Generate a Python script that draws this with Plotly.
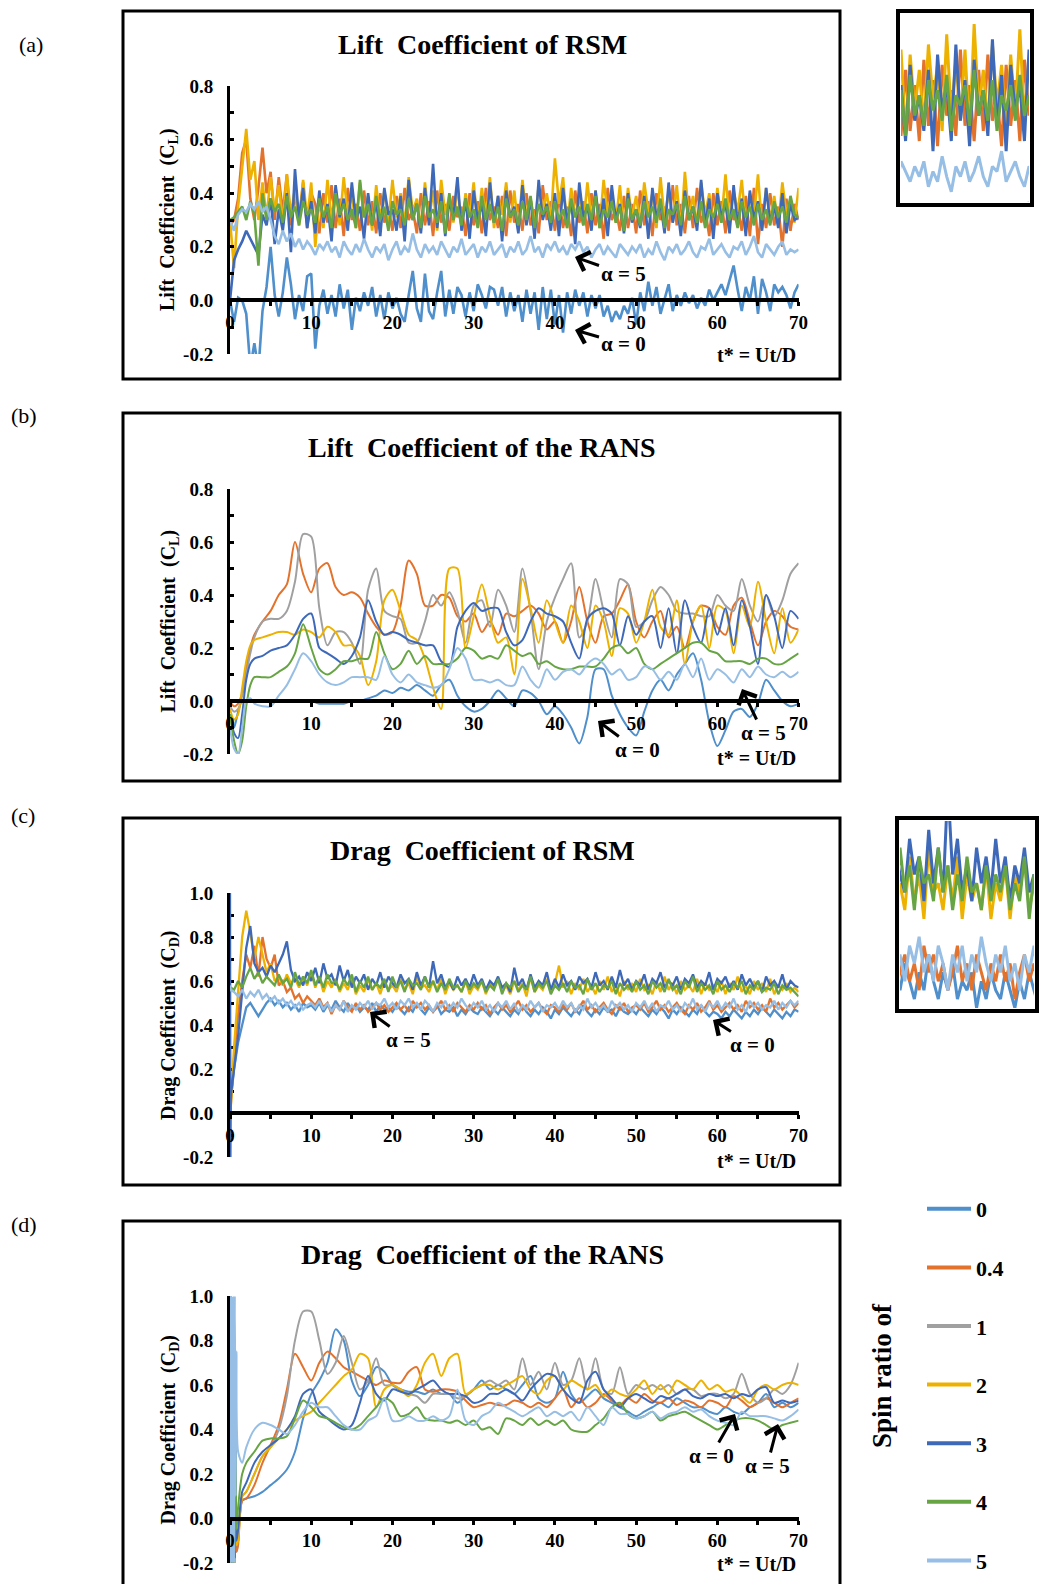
import plotly.graph_objects as go

W, H = 1041, 1584
FONT = "Liberation Serif"

SPIN_RATIOS = ["0", "0.4", "1", "2", "3", "4", "5"]
LINE_COLORS = ["#4F8FCB", "#E3722C", "#A0A0A0", "#EDB100", "#3E69B9", "#67A444", "#97BEE4"]

# ---------------- sample times (t* = Ut/D) ----------------
T_RSM_LIFT = [0.0] + [0.5 * k for k in range(1, 141)]
T_RSM_DRAG = [0.0, 0.05, 0.1] + [0.5 * k for k in range(1, 141)]
T_RANS_LIFT = [0.0, 0.5, 1.0, 1.5, 2.0, 2.5, 3.0] + list(range(4, 71))
T_RANS_DRAG = [0.0, 0.1, 0.2, 0.3, 0.4, 0.5, 0.6, 0.7, 0.8, 1.0, 1.5, 2.0, 3.0] + list(range(4, 71))

# ---------------- (a) lift coefficient, RSM ----------------
CL_RSM_0 = [0.00,
    -0.08, 0.01, 0.00, -0.05, -0.25, -0.16, -0.26, -0.04, 0.05, 0.20, 0.02, -0.06, 0.03, 0.16, 0.06, -0.07, 0.02, -0.04, 0.09, 0.10,
    -0.18, -0.02, 0.04, -0.05, 0.02, -0.06, 0.06, -0.03, 0.04, -0.11, 0.01, -0.04, 0.03, -0.02, 0.05, -0.06, 0.02, -0.07, 0.03, -0.03,
    0.01, -0.05, -0.08, 0.02, 0.11, -0.03, -0.08, 0.10, -0.04, -0.07, 0.03, 0.11, -0.06, 0.04, -0.05, 0.05, 0.02, -0.06, 0.03, -0.04,
    0.06, 0.02, -0.03, 0.05, 0.04, -0.02, 0.05, -0.06, 0.03, -0.04, 0.02, -0.08, 0.04, -0.05, 0.03, -0.11, 0.05, -0.07, 0.04, -0.09,
    0.02, -0.12, 0.03, -0.05, 0.04, -0.02, 0.03, -0.06, 0.02, -0.03, 0.02, -0.06, -0.02, -0.08, -0.04, -0.07, -0.02, -0.05, 0.01, -0.09,
    0.03, -0.04, 0.07, -0.02, 0.05, -0.05, 0.01, 0.06, -0.04, 0.02, -0.02, 0.03, -0.01, 0.02, -0.03, 0.01, -0.02, 0.04, 0.00, 0.03,
    0.06, 0.02, 0.08, 0.13, 0.04, -0.04, 0.05, 0.00, 0.09, -0.05, 0.08, 0.03, -0.04, 0.06, 0.03, 0.05, 0.02, -0.03, 0.03, 0.06]
CL_RSM_04 = [0.28,
    0.30, 0.38, 0.55, 0.60, 0.38, 0.30, 0.42, 0.57, 0.40, 0.48, 0.30, 0.46, 0.33, 0.47, 0.28, 0.40, 0.30, 0.44, 0.27, 0.40,
    0.36, 0.25, 0.40, 0.29, 0.43, 0.27, 0.38, 0.24, 0.42, 0.30, 0.36, 0.26, 0.41, 0.28, 0.37, 0.25, 0.40, 0.29, 0.35, 0.26,
    0.39, 0.27, 0.42, 0.30, 0.34, 0.25, 0.40, 0.28, 0.37, 0.24, 0.41, 0.29, 0.36, 0.26, 0.39, 0.31, 0.35, 0.24, 0.40, 0.28,
    0.37, 0.25, 0.42, 0.30, 0.35, 0.27, 0.39, 0.24, 0.41, 0.29, 0.36, 0.26, 0.40, 0.28, 0.34, 0.25, 0.43, 0.30, 0.37, 0.26,
    0.39, 0.27, 0.35, 0.24, 0.41, 0.29, 0.37, 0.25, 0.40, 0.28, 0.36, 0.23, 0.42, 0.30, 0.34, 0.26, 0.39, 0.27, 0.36, 0.25,
    0.41, 0.28, 0.37, 0.24, 0.40, 0.30, 0.35, 0.26, 0.43, 0.28, 0.36, 0.25, 0.39, 0.27, 0.42, 0.29, 0.34, 0.24, 0.40, 0.28,
    0.37, 0.25, 0.41, 0.30, 0.35, 0.26, 0.39, 0.24, 0.42, 0.21, 0.36, 0.27, 0.40, 0.28, 0.35, 0.20, 0.38, 0.26, 0.36, 0.30]
CL_RSM_2 = [0.30,
    0.12, 0.35, 0.50, 0.64, 0.45, 0.52, 0.30, 0.44, 0.31, 0.46, 0.33, 0.43, 0.29, 0.47, 0.32, 0.42, 0.28, 0.45, 0.30, 0.44,
    0.20, 0.38, 0.27, 0.45, 0.30, 0.42, 0.28, 0.46, 0.32, 0.40, 0.27, 0.44, 0.31, 0.39, 0.26, 0.43, 0.30, 0.41, 0.29, 0.45,
    0.31, 0.40, 0.28, 0.46, 0.33, 0.38, 0.27, 0.44, 0.30, 0.41, 0.26, 0.45, 0.32, 0.39, 0.29, 0.43, 0.27, 0.40, 0.31, 0.44,
    0.28, 0.42, 0.30, 0.46, 0.27, 0.39, 0.32, 0.44, 0.29, 0.41, 0.26, 0.45, 0.31, 0.38, 0.28, 0.43, 0.33, 0.40, 0.30, 0.53,
    0.36, 0.46, 0.27, 0.42, 0.31, 0.39, 0.28, 0.44, 0.30, 0.41, 0.27, 0.45, 0.32, 0.40, 0.29, 0.43, 0.26, 0.42, 0.31, 0.39,
    0.28, 0.44, 0.33, 0.40, 0.27, 0.46, 0.30, 0.41, 0.29, 0.43, 0.26, 0.48, 0.31, 0.39, 0.28, 0.44, 0.32, 0.40, 0.27, 0.42,
    0.30, 0.47, 0.29, 0.41, 0.33, 0.45, 0.28, 0.40, 0.31, 0.47, 0.27, 0.42, 0.30, 0.39, 0.28, 0.44, 0.32, 0.38, 0.29, 0.42]
CL_RSM_3 = [0.00,
    0.15, 0.19, 0.22, 0.26, 0.23, 0.20, 0.17, 0.32, 0.28, 0.38, 0.21, 0.34, 0.26, 0.40, 0.18, 0.49, 0.30, 0.42, 0.27, 0.37,
    0.25, 0.41, 0.29, 0.36, 0.22, 0.43, 0.31, 0.38, 0.26, 0.44, 0.30, 0.35, 0.23, 0.40, 0.28, 0.37, 0.24, 0.42, 0.32, 0.34,
    0.26, 0.39, 0.22, 0.45, 0.30, 0.36, 0.25, 0.42, 0.28, 0.51, 0.27, 0.40, 0.24, 0.37, 0.31, 0.46, 0.26, 0.38, 0.23, 0.41,
    0.30, 0.36, 0.24, 0.44, 0.29, 0.39, 0.22, 0.41, 0.31, 0.35, 0.25, 0.43, 0.28, 0.38, 0.23, 0.45, 0.30, 0.36, 0.26, 0.40,
    0.24, 0.42, 0.29, 0.37, 0.21, 0.44, 0.31, 0.35, 0.26, 0.41, 0.28, 0.38, 0.24, 0.43, 0.30, 0.36, 0.25, 0.40, 0.29, 0.34,
    0.27, 0.39, 0.23, 0.42, 0.31, 0.36, 0.25, 0.44, 0.29, 0.37, 0.24, 0.41, 0.30, 0.35, 0.26, 0.45, 0.28, 0.38, 0.23, 0.40,
    0.31, 0.36, 0.25, 0.43, 0.28, 0.38, 0.24, 0.41, 0.30, 0.37, 0.26, 0.42, 0.29, 0.35, 0.27, 0.40, 0.25, 0.36, 0.30, 0.31]
CL_RSM_4 = [0.30,
    0.31, 0.33, 0.35, 0.30, 0.37, 0.32, 0.13, 0.40, 0.30, 0.38, 0.33, 0.36, 0.29, 0.39, 0.31, 0.35, 0.28, 0.37, 0.32, 0.34,
    0.29, 0.38, 0.31, 0.35, 0.27, 0.40, 0.32, 0.36, 0.30, 0.34, 0.27, 0.45, 0.31, 0.36, 0.28, 0.39, 0.30, 0.35, 0.26, 0.37,
    0.32, 0.34, 0.28, 0.38, 0.30, 0.36, 0.27, 0.39, 0.31, 0.34, 0.29, 0.37, 0.25, 0.40, 0.30, 0.35, 0.28, 0.38, 0.31, 0.34,
    0.27, 0.39, 0.30, 0.36, 0.29, 0.35, 0.26, 0.38, 0.31, 0.34, 0.28, 0.37, 0.30, 0.39, 0.27, 0.36, 0.32, 0.35, 0.29, 0.37,
    0.30, 0.34, 0.27, 0.38, 0.31, 0.35, 0.28, 0.36, 0.30, 0.39, 0.27, 0.34, 0.31, 0.37, 0.29, 0.35, 0.26, 0.38, 0.30, 0.34,
    0.28, 0.37, 0.31, 0.35, 0.29, 0.38, 0.27, 0.34, 0.32, 0.36, 0.28, 0.39, 0.30, 0.35, 0.29, 0.37, 0.27, 0.34, 0.31, 0.36,
    0.29, 0.38, 0.30, 0.34, 0.27, 0.37, 0.31, 0.35, 0.28, 0.36, 0.30, 0.34, 0.28, 0.37, 0.31, 0.35, 0.29, 0.39, 0.32, 0.31]
CL_RSM_5 = [0.30,
    0.26, 0.32, 0.34, 0.33, 0.36, 0.34, 0.37, 0.33, 0.35, 0.30, 0.24, 0.21, 0.26, 0.22, 0.25, 0.20, 0.23, 0.19, 0.22, 0.20,
    0.17, 0.21, 0.19, 0.22, 0.18, 0.20, 0.16, 0.22, 0.19, 0.17, 0.21, 0.18, 0.23, 0.19, 0.16, 0.20, 0.18, 0.21, 0.15, 0.19,
    0.22, 0.17, 0.20, 0.18, 0.25, 0.19, 0.16, 0.21, 0.18, 0.20, 0.17, 0.22, 0.19, 0.16, 0.20, 0.18, 0.23, 0.17, 0.19, 0.21,
    0.16, 0.20, 0.18, 0.22, 0.17, 0.19, 0.21, 0.16, 0.20, 0.18, 0.22, 0.17, 0.19, 0.24, 0.18, 0.20, 0.16, 0.21, 0.19, 0.22,
    0.18, 0.20, 0.17, 0.21, 0.19, 0.22, 0.18, 0.20, 0.16, 0.19, 0.21, 0.17, 0.20, 0.18, 0.16, 0.21, 0.19, 0.17, 0.20, 0.18,
    0.21, 0.16, 0.19, 0.17, 0.22, 0.18, 0.15, 0.20, 0.18, 0.21, 0.17, 0.19, 0.22, 0.18, 0.16, 0.20, 0.19, 0.23, 0.17, 0.19,
    0.21, 0.18, 0.16, 0.20, 0.19, 0.22, 0.17, 0.20, 0.24, 0.18, 0.16, 0.21, 0.19, 0.17, 0.20, 0.22, 0.17, 0.19, 0.18, 0.19]

# ---------------- (b) lift coefficient, RANS ----------------
CL_RANS_0 = [-0.05, -0.10, -0.04, 0.00, 0.00, 0.00, 0.00,
    0.00, 0.00, 0.00, 0.00, 0.00, 0.00, 0.00,
    -0.01, -0.01, -0.01, -0.01, 0.00, 0.00, 0.01, 0.02, 0.04, 0.03,
    0.05, 0.04, 0.06, 0.04, 0.02, 0.06, 0.08, 0.02, -0.02, -0.04,
    -0.03, 0.00, 0.04, 0.01, -0.02, 0.04, 0.03, 0.00, -0.05, -0.02,
    -0.05, -0.10, -0.16, -0.06, 0.12, 0.12, 0.02, -0.05, -0.10, -0.13,
    -0.04, 0.04, 0.08, 0.04, 0.10, 0.14, 0.18, 0.08, -0.08, -0.17,
    -0.11, -0.04, -0.03, -0.06, -0.01, 0.08, 0.04, 0.00, -0.02, -0.01]
CL_RANS_04 = [0.00, -0.02, -0.01, 0.03, 0.12, 0.20, 0.25,
    0.30, 0.34, 0.40, 0.44, 0.60, 0.48, 0.41,
    0.50, 0.52, 0.43, 0.40, 0.41, 0.39, 0.33, 0.28, 0.25, 0.26,
    0.36, 0.53, 0.48, 0.36, 0.36, 0.40, 0.39, 0.32, 0.30, 0.33,
    0.26, 0.30, 0.25, 0.33, 0.32, 0.34, 0.36, 0.33, 0.27, 0.30,
    0.22, 0.30, 0.43, 0.30, 0.22, 0.32, 0.33, 0.38, 0.44, 0.30,
    0.24, 0.30, 0.34, 0.24, 0.28, 0.20, 0.30, 0.36, 0.35, 0.28,
    0.25, 0.36, 0.39, 0.30, 0.21, 0.30, 0.34, 0.32, 0.28, 0.27]
CL_RANS_1 = [-0.02, -0.04, -0.03, 0.02, 0.10, 0.18, 0.24,
    0.30, 0.31, 0.31, 0.34, 0.45, 0.63, 0.62,
    0.35, 0.21, 0.26, 0.26, 0.22, 0.14, 0.42, 0.50, 0.34, 0.32,
    0.31, 0.22, 0.22, 0.30, 0.40, 0.36, 0.41, 0.34, 0.22, 0.36,
    0.38, 0.28, 0.42, 0.36, 0.26, 0.50, 0.34, 0.12, 0.30, 0.39,
    0.46, 0.52, 0.24, 0.30, 0.46, 0.34, 0.24, 0.46, 0.44, 0.28,
    0.30, 0.38, 0.43, 0.40, 0.34, 0.33, 0.33, 0.32, 0.32, 0.40,
    0.36, 0.34, 0.46, 0.36, 0.30, 0.40, 0.32, 0.38, 0.48, 0.52]
CL_RANS_2 = [-0.03, -0.07, -0.05, 0.05, 0.15, 0.21, 0.23,
    0.24, 0.25, 0.26, 0.26, 0.25, 0.27, 0.26,
    0.24, 0.28, 0.26, 0.21, 0.21, 0.17, 0.06, 0.15, 0.38, 0.42,
    0.34, 0.25, 0.23, 0.16, 0.05, -0.03, 0.50, 0.50, 0.20, 0.32,
    0.44, 0.32, 0.22, 0.24, 0.10, 0.46, 0.35, 0.22, 0.38, 0.30,
    0.22, 0.36, 0.30, 0.20, 0.36, 0.30, 0.17, 0.35, 0.33, 0.22,
    0.30, 0.42, 0.28, 0.25, 0.38, 0.14, 0.30, 0.36, 0.20, 0.36,
    0.34, 0.18, 0.36, 0.28, 0.45, 0.30, 0.18, 0.35, 0.22, 0.27]
CL_RANS_3 = [-0.05, -0.12, -0.14, -0.05, 0.08, 0.14, 0.16,
    0.17, 0.19, 0.20, 0.21, 0.25, 0.31, 0.33,
    0.20, 0.18, 0.16, 0.14, 0.17, 0.24, 0.38, 0.30, 0.25, 0.26,
    0.25, 0.23, 0.22, 0.21, 0.21, 0.15, 0.13, 0.28, 0.34, 0.37,
    0.34, 0.35, 0.35, 0.26, 0.21, 0.23, 0.30, 0.35, 0.33, 0.32,
    0.30, 0.22, 0.16, 0.31, 0.34, 0.35, 0.33, 0.21, 0.32, 0.25,
    0.30, 0.32, 0.20, 0.35, 0.18, 0.38, 0.28, 0.22, 0.35, 0.25,
    0.35, 0.21, 0.38, 0.28, 0.14, 0.40, 0.32, 0.20, 0.34, 0.31]
CL_RANS_4 = [-0.05, -0.15, -0.20, -0.15, -0.02, 0.06, 0.09,
    0.09, 0.09, 0.11, 0.13, 0.18, 0.29, 0.20,
    0.12, 0.10, 0.12, 0.15, 0.15, 0.16, 0.16, 0.26, 0.18, 0.12,
    0.14, 0.19, 0.14, 0.17, 0.14, 0.14, 0.14, 0.16, 0.20, 0.19,
    0.16, 0.17, 0.16, 0.21, 0.19, 0.17, 0.18, 0.14, 0.15, 0.13,
    0.12, 0.12, 0.13, 0.13, 0.13, 0.16, 0.20, 0.21, 0.18, 0.20,
    0.14, 0.12, 0.14, 0.16, 0.18, 0.20, 0.22, 0.22, 0.19, 0.18,
    0.15, 0.15, 0.15, 0.14, 0.16, 0.16, 0.14, 0.14, 0.16, 0.18]
CL_RANS_5 = [-0.10, -0.18, -0.20, -0.10, 0.00, 0.01, -0.01,
    -0.02, -0.02, 0.02, 0.06, 0.12, 0.18, 0.15,
    0.10, 0.07, 0.06, 0.07, 0.09, 0.09, 0.09, 0.08, 0.17, 0.10,
    0.07, 0.10, 0.07, 0.06, 0.05, 0.06, 0.12, 0.20, 0.16, 0.08,
    0.08, 0.07, 0.08, 0.06, 0.06, 0.13, 0.08, 0.05, 0.12, 0.08,
    0.11, 0.12, 0.10, 0.14, 0.16, 0.14, 0.10, 0.12, 0.08, 0.09,
    0.13, 0.12, 0.08, 0.11, 0.08, 0.14, 0.09, 0.16, 0.08, 0.12,
    0.10, 0.07, 0.12, 0.09, 0.13, 0.10, 0.09, 0.11, 0.09, 0.11]

# ---------------- (c) drag coefficient, RSM ----------------
CD_RSM_0 = [0.05, 0.05, 0.06,
    0.20, 0.32, 0.40, 0.48, 0.50, 0.47, 0.44, 0.47, 0.50, 0.52, 0.49, 0.51, 0.48, 0.50, 0.47, 0.49, 0.46, 0.50, 0.48, 0.49,
    0.47, 0.50, 0.46, 0.49, 0.47, 0.51, 0.48, 0.46, 0.50, 0.47, 0.49, 0.46, 0.48, 0.47, 0.50, 0.46, 0.49, 0.47, 0.48, 0.46,
    0.49, 0.47, 0.45, 0.48, 0.46, 0.50, 0.47, 0.45, 0.48, 0.46, 0.49, 0.45, 0.47, 0.46, 0.48, 0.44, 0.47, 0.45, 0.48, 0.46,
    0.45, 0.48, 0.46, 0.44, 0.47, 0.45, 0.48, 0.46, 0.44, 0.47, 0.45, 0.49, 0.46, 0.44, 0.47, 0.45, 0.48, 0.46, 0.43, 0.47,
    0.45, 0.48, 0.46, 0.44, 0.47, 0.45, 0.49, 0.46, 0.44, 0.47, 0.45, 0.48, 0.46, 0.47, 0.44, 0.48, 0.46, 0.45, 0.47, 0.45,
    0.48, 0.46, 0.44, 0.47, 0.45, 0.48, 0.46, 0.43, 0.47, 0.45, 0.48, 0.46, 0.44, 0.47, 0.45, 0.49, 0.46, 0.44, 0.46, 0.45,
    0.43, 0.46, 0.44, 0.47, 0.45, 0.43, 0.46, 0.44, 0.47, 0.45, 0.48, 0.46, 0.44, 0.47, 0.45, 0.43, 0.46, 0.44, 0.47, 0.46]
CD_RSM_04 = [0.00, 0.01, 0.03,
    0.25, 0.45, 0.60, 0.72, 0.66, 0.76, 0.62, 0.80, 0.70, 0.66, 0.72, 0.58, 0.60, 0.55, 0.57, 0.52, 0.54, 0.50, 0.53, 0.51,
    0.49, 0.52, 0.48, 0.50, 0.45, 0.49, 0.47, 0.51, 0.48, 0.46, 0.50, 0.47, 0.49, 0.46, 0.48, 0.50, 0.47, 0.49, 0.46, 0.48,
    0.50, 0.47, 0.49, 0.46, 0.51, 0.48, 0.50, 0.47, 0.49, 0.46, 0.48, 0.51, 0.47, 0.49, 0.46, 0.50, 0.48, 0.46, 0.49, 0.47,
    0.50, 0.47, 0.49, 0.45, 0.48, 0.50, 0.47, 0.49, 0.46, 0.48, 0.51, 0.47, 0.49, 0.46, 0.48, 0.50, 0.47, 0.45, 0.49, 0.48,
    0.46, 0.49, 0.47, 0.50, 0.46, 0.48, 0.51, 0.47, 0.49, 0.46, 0.48, 0.50, 0.47, 0.45, 0.49, 0.47, 0.50, 0.46, 0.48, 0.49,
    0.47, 0.50, 0.46, 0.48, 0.51, 0.47, 0.49, 0.46, 0.48, 0.50, 0.47, 0.45, 0.49, 0.47, 0.50, 0.46, 0.48, 0.51, 0.47, 0.49,
    0.46, 0.48, 0.50, 0.47, 0.49, 0.46, 0.51, 0.48, 0.50, 0.47, 0.49, 0.46, 0.52, 0.48, 0.50, 0.47, 0.49, 0.51, 0.48, 0.50]
CD_RSM_2 = [0.00, 0.01, 0.03,
    0.30, 0.55, 0.80, 0.92, 0.82, 0.70, 0.80, 0.72, 0.64, 0.68, 0.60, 0.62, 0.58, 0.63, 0.59, 0.61, 0.57, 0.62, 0.58, 0.64,
    0.57, 0.62, 0.55, 0.60, 0.57, 0.61, 0.55, 0.59, 0.56, 0.62, 0.54, 0.58, 0.55, 0.61, 0.56, 0.59, 0.54, 0.60, 0.56, 0.58,
    0.55, 0.61, 0.56, 0.59, 0.54, 0.62, 0.57, 0.58, 0.55, 0.60, 0.56, 0.61, 0.54, 0.59, 0.56, 0.58, 0.55, 0.60, 0.54, 0.58,
    0.56, 0.60, 0.54, 0.59, 0.57, 0.61, 0.55, 0.58, 0.54, 0.60, 0.56, 0.59, 0.53, 0.62, 0.55, 0.58, 0.56, 0.61, 0.55, 0.59,
    0.67, 0.57, 0.60, 0.54, 0.59, 0.56, 0.61, 0.55, 0.58, 0.54, 0.60, 0.56, 0.62, 0.55, 0.58, 0.53, 0.60, 0.56, 0.59, 0.55,
    0.61, 0.56, 0.58, 0.54, 0.60, 0.55, 0.62, 0.56, 0.59, 0.54, 0.60, 0.56, 0.58, 0.55, 0.61, 0.54, 0.59, 0.56, 0.58, 0.55,
    0.60, 0.54, 0.59, 0.56, 0.62, 0.55, 0.58, 0.54, 0.60, 0.56, 0.59, 0.55, 0.61, 0.54, 0.58, 0.56, 0.59, 0.55, 0.57, 0.55]
CD_RSM_3 = [1.00, -0.20, 0.08,
    0.20, 0.35, 0.55, 0.75, 0.85, 0.68, 0.64, 0.66, 0.62, 0.67, 0.64, 0.68, 0.72, 0.78, 0.65, 0.60, 0.62, 0.58, 0.64, 0.60,
    0.66, 0.59, 0.68, 0.61, 0.63, 0.58, 0.67, 0.60, 0.65, 0.57, 0.62, 0.59, 0.63, 0.56, 0.61, 0.58, 0.64, 0.57, 0.62, 0.59,
    0.57, 0.63, 0.59, 0.61, 0.56, 0.64, 0.58, 0.62, 0.57, 0.69, 0.59, 0.63, 0.57, 0.60, 0.56, 0.62, 0.58, 0.61, 0.57, 0.63,
    0.58, 0.61, 0.56, 0.60, 0.58, 0.62, 0.57, 0.59, 0.55, 0.66, 0.58, 0.61, 0.56, 0.63, 0.57, 0.60, 0.58, 0.64, 0.56, 0.61,
    0.57, 0.63, 0.58, 0.60, 0.56, 0.62, 0.59, 0.61, 0.57, 0.64, 0.58, 0.60, 0.56, 0.62, 0.57, 0.65, 0.58, 0.61, 0.56, 0.60,
    0.58, 0.63, 0.56, 0.61, 0.59, 0.64, 0.57, 0.60, 0.58, 0.62, 0.56, 0.61, 0.59, 0.63, 0.57, 0.60, 0.58, 0.64, 0.56, 0.61,
    0.59, 0.62, 0.57, 0.60, 0.56, 0.63, 0.58, 0.61, 0.57, 0.60, 0.55, 0.62, 0.58, 0.60, 0.57, 0.63, 0.56, 0.60, 0.58, 0.57]
CD_RSM_4 = [0.55, 0.56, 0.57,
    0.56, 0.60, 0.57, 0.62, 0.66, 0.61, 0.64, 0.59, 0.62, 0.60, 0.58, 0.63, 0.59, 0.61, 0.57, 0.64, 0.58, 0.62, 0.59, 0.65,
    0.58, 0.62, 0.57, 0.63, 0.59, 0.60, 0.56, 0.61, 0.58, 0.63, 0.55, 0.60, 0.57, 0.62, 0.56, 0.59, 0.57, 0.61, 0.55, 0.62,
    0.57, 0.60, 0.55, 0.61, 0.58, 0.59, 0.56, 0.62, 0.57, 0.60, 0.55, 0.59, 0.56, 0.61, 0.57, 0.58, 0.55, 0.60, 0.56, 0.59,
    0.57, 0.60, 0.55, 0.58, 0.56, 0.61, 0.54, 0.59, 0.57, 0.60, 0.55, 0.58, 0.56, 0.62, 0.55, 0.59, 0.57, 0.60, 0.54, 0.58,
    0.56, 0.59, 0.55, 0.60, 0.57, 0.58, 0.54, 0.61, 0.56, 0.59, 0.55, 0.58, 0.57, 0.60, 0.54, 0.59, 0.56, 0.58, 0.55, 0.60,
    0.56, 0.58, 0.54, 0.60, 0.57, 0.59, 0.55, 0.61, 0.56, 0.58, 0.54, 0.60, 0.57, 0.62, 0.55, 0.59, 0.56, 0.58, 0.54, 0.60,
    0.56, 0.58, 0.55, 0.59, 0.57, 0.60, 0.54, 0.58, 0.56, 0.60, 0.55, 0.57, 0.56, 0.59, 0.54, 0.58, 0.56, 0.57, 0.55, 0.53]
CD_RSM_5 = [0.58, 0.57, 0.56,
    0.55, 0.53, 0.56, 0.52, 0.55, 0.53, 0.56, 0.52, 0.54, 0.51, 0.53, 0.50, 0.52, 0.49, 0.51, 0.48, 0.50, 0.47, 0.49, 0.50,
    0.48, 0.51, 0.47, 0.50, 0.46, 0.49, 0.47, 0.51, 0.46, 0.49, 0.47, 0.50, 0.48, 0.51, 0.47, 0.50, 0.49, 0.52, 0.48, 0.50,
    0.47, 0.51, 0.49, 0.52, 0.48, 0.50, 0.47, 0.51, 0.49, 0.46, 0.50, 0.48, 0.51, 0.47, 0.50, 0.48, 0.52, 0.49, 0.47, 0.50,
    0.48, 0.51, 0.47, 0.49, 0.46, 0.50, 0.48, 0.51, 0.47, 0.50, 0.46, 0.49, 0.47, 0.51, 0.48, 0.50, 0.46, 0.49, 0.48, 0.50,
    0.47, 0.51, 0.48, 0.50, 0.46, 0.49, 0.47, 0.52, 0.48, 0.50, 0.47, 0.49, 0.46, 0.51, 0.48, 0.50, 0.47, 0.49, 0.46, 0.50,
    0.48, 0.51, 0.47, 0.50, 0.46, 0.49, 0.48, 0.51, 0.47, 0.49, 0.46, 0.50, 0.48, 0.52, 0.47, 0.49, 0.46, 0.50, 0.48, 0.51,
    0.47, 0.50, 0.48, 0.52, 0.47, 0.49, 0.46, 0.51, 0.48, 0.50, 0.47, 0.49, 0.48, 0.51, 0.47, 0.50, 0.48, 0.51, 0.49, 0.51]

# ---------------- (d) drag coefficient, RANS ----------------
CD_RANS_0 = [0.00, 1.00, -0.20, 0.90, -0.20, 0.60, -0.20, 0.40, -0.15, -0.10, 0.08, 0.09, 0.10,
    0.12, 0.15, 0.18, 0.22, 0.30, 0.45, 0.56,
    0.62, 0.70, 0.85, 0.80, 0.62, 0.55, 0.60, 0.68, 0.66, 0.60,
    0.58, 0.57, 0.57, 0.56, 0.58, 0.56, 0.56, 0.52, 0.55, 0.58,
    0.62, 0.58, 0.60, 0.58, 0.56, 0.60, 0.64, 0.54, 0.52, 0.54,
    0.66, 0.56, 0.52, 0.55, 0.58, 0.54, 0.52, 0.50, 0.48, 0.46,
    0.48, 0.50, 0.52, 0.50, 0.54, 0.52, 0.50, 0.50, 0.48, 0.47,
    0.50, 0.48, 0.47, 0.50, 0.52, 0.56, 0.50, 0.52, 0.50, 0.52]
CD_RANS_04 = [0.00, 0.95, -0.20, 0.85, -0.20, 0.55, -0.20, 0.35, -0.15, -0.12, 0.08, 0.09, 0.15,
    0.25, 0.33, 0.42, 0.58, 0.74, 0.68, 0.62,
    0.70, 0.75, 0.72, 0.68, 0.66, 0.64, 0.62, 0.60, 0.62, 0.61,
    0.61, 0.66, 0.68, 0.58, 0.57, 0.58, 0.58, 0.57, 0.53, 0.50,
    0.51, 0.52, 0.51, 0.51, 0.53, 0.52, 0.50, 0.52, 0.50, 0.54,
    0.58, 0.50, 0.54, 0.50, 0.52, 0.56, 0.53, 0.51, 0.54, 0.52,
    0.56, 0.53, 0.52, 0.54, 0.51, 0.53, 0.52, 0.50, 0.53, 0.52,
    0.50, 0.55, 0.53, 0.50, 0.52, 0.54, 0.52, 0.50, 0.52, 0.54]
CD_RANS_1 = [0.00, 1.00, -0.20, 0.80, -0.20, 0.60, -0.20, 0.30, -0.10, -0.08, 0.10, 0.12, 0.20,
    0.28, 0.32, 0.40, 0.55, 0.80, 0.93, 0.93,
    0.80, 0.65, 0.70, 0.82, 0.70, 0.58, 0.62, 0.72, 0.60, 0.60,
    0.58, 0.56, 0.55, 0.52, 0.56, 0.56, 0.56, 0.54, 0.55, 0.58,
    0.60, 0.62, 0.60, 0.62, 0.58, 0.72, 0.60, 0.66, 0.58, 0.70,
    0.60, 0.62, 0.72, 0.58, 0.72, 0.58, 0.56, 0.68, 0.56, 0.60,
    0.58, 0.60, 0.58, 0.60, 0.56, 0.58, 0.58, 0.55, 0.56, 0.56,
    0.54, 0.56, 0.65, 0.56, 0.52, 0.54, 0.58, 0.56, 0.60, 0.70]
CD_RANS_2 = [0.00, 0.90, -0.20, 0.85, -0.20, 0.50, -0.20, 0.30, -0.12, -0.10, 0.10, 0.12, 0.20,
    0.28, 0.32, 0.36, 0.40, 0.44, 0.46, 0.48,
    0.52, 0.56, 0.60, 0.64, 0.67, 0.74, 0.72, 0.50, 0.58, 0.60,
    0.58, 0.55, 0.60, 0.70, 0.74, 0.64, 0.72, 0.74, 0.56, 0.58,
    0.60, 0.60, 0.58, 0.60, 0.62, 0.64, 0.58, 0.56, 0.62, 0.64,
    0.58, 0.62, 0.60, 0.58, 0.60, 0.55, 0.58, 0.56, 0.55, 0.58,
    0.62, 0.56, 0.60, 0.56, 0.62, 0.60, 0.58, 0.62, 0.58, 0.60,
    0.57, 0.58, 0.55, 0.52, 0.58, 0.60, 0.58, 0.60, 0.61, 0.60]
CD_RANS_3 = [0.00, 1.00, -0.20, 0.90, -0.20, 0.65, -0.18, 0.35, -0.10, -0.05, 0.12, 0.16, 0.25,
    0.30, 0.33, 0.36, 0.40, 0.46, 0.56, 0.58,
    0.48, 0.45, 0.42, 0.40, 0.42, 0.52, 0.64, 0.56, 0.53, 0.58,
    0.57, 0.56, 0.58, 0.60, 0.62, 0.58, 0.56, 0.56, 0.55, 0.52,
    0.53, 0.56, 0.56, 0.58, 0.56, 0.53, 0.58, 0.62, 0.65, 0.64,
    0.58, 0.54, 0.52, 0.62, 0.66, 0.58, 0.54, 0.50, 0.54, 0.56,
    0.54, 0.52, 0.55, 0.54, 0.56, 0.58, 0.55, 0.54, 0.56, 0.55,
    0.56, 0.54, 0.56, 0.55, 0.58, 0.59, 0.52, 0.53, 0.52, 0.53]
CD_RANS_4 = [0.00, 0.95, -0.20, 0.80, -0.20, 0.60, -0.15, 0.40, -0.05, 0.05, 0.20, 0.25, 0.30,
    0.35, 0.36, 0.36, 0.37, 0.45, 0.53, 0.50,
    0.46, 0.45, 0.43, 0.41, 0.40, 0.42, 0.46, 0.50, 0.54, 0.52,
    0.46, 0.47, 0.50, 0.45, 0.44, 0.44, 0.43, 0.44, 0.42, 0.44,
    0.40, 0.41, 0.38, 0.45, 0.44, 0.42, 0.45, 0.42, 0.44, 0.42,
    0.44, 0.40, 0.39, 0.39, 0.42, 0.45, 0.50, 0.52, 0.47, 0.45,
    0.46, 0.48, 0.44, 0.46, 0.47, 0.48, 0.46, 0.44, 0.42, 0.40,
    0.42, 0.44, 0.45, 0.45, 0.44, 0.42, 0.40, 0.42, 0.43, 0.44]
CD_RANS_5 = [1.00, -0.20, 1.00, -0.20, 1.00, -0.20, 1.00, 0.10, 0.75, 0.30, 0.25, 0.32, 0.40,
    0.43, 0.42, 0.40, 0.38, 0.42, 0.48, 0.52,
    0.50, 0.50, 0.46, 0.42, 0.40, 0.40, 0.44, 0.46, 0.54, 0.44,
    0.44, 0.46, 0.44, 0.44, 0.46, 0.44, 0.46, 0.58, 0.44, 0.42,
    0.46, 0.48, 0.52, 0.50, 0.48, 0.46, 0.48, 0.50, 0.46, 0.48,
    0.46, 0.48, 0.44, 0.50, 0.46, 0.42, 0.50, 0.47, 0.47, 0.45,
    0.46, 0.48, 0.45, 0.47, 0.48, 0.50, 0.48, 0.49, 0.46, 0.44,
    0.43, 0.42, 0.48, 0.46, 0.46, 0.46, 0.45, 0.44, 0.46, 0.49]

LIFT_RSM = {"0": CL_RSM_0, "0.4": CL_RSM_04, "2": CL_RSM_2, "3": CL_RSM_3, "4": CL_RSM_4, "5": CL_RSM_5}
LIFT_RANS = {"0": CL_RANS_0, "0.4": CL_RANS_04, "1": CL_RANS_1, "2": CL_RANS_2, "3": CL_RANS_3, "4": CL_RANS_4, "5": CL_RANS_5}
DRAG_RSM = {"0": CD_RSM_0, "0.4": CD_RSM_04, "2": CD_RSM_2, "3": CD_RSM_3, "4": CD_RSM_4, "5": CD_RSM_5}
DRAG_RANS = {"0": CD_RANS_0, "0.4": CD_RANS_04, "1": CD_RANS_1, "2": CD_RANS_2, "3": CD_RANS_3, "4": CD_RANS_4, "5": CD_RANS_5}

PANEL_TITLES = ["Lift  Coefficient of RSM", "Lift  Coefficient of the RANS",
                "Drag  Coefficient of RSM", "Drag  Coefficient of the RANS"]
PANEL_LETTERS = ["(a)", "(b)", "(c)", "(d)"]
Y_TITLES = ["Lift  Coefficient  (C<sub>L</sub>)", "Lift  Coefficient  (C<sub>L</sub>)",
            "Drag Coefficient  (C<sub>D</sub>)", "Drag Coefficient  (C<sub>D</sub>)"]
X_TITLE = "t* = Ut/D"


# ---------------- helpers: pixel -> paper ----------------
def fx(x):
    return x / W


def fy(y):
    return 1 - y / H


def label(text, x, y, size, angle=0, xanchor="center"):
    return dict(text=text, x=fx(x), y=fy(y), xref="paper", yref="paper", xanchor=xanchor,
                yanchor="middle", textangle=angle, showarrow=False, font=dict(size=size, family=FONT))


COLOR_OF = dict(zip(SPIN_RATIOS, LINE_COLORS))

# panel geometry (pixels) and axis ranges
X_LEFT, X_RIGHT = 230, 798.6
panels = [
    dict(series=LIFT_RSM, t=T_RSM_LIFT, yr=(-0.2, 0.8), top=86, bot=354, width=2.6, shape="linear",
         box=(123, 11, 840, 379), title_y=44.5, letter_y=44.5, letter_x=17, xt_y=355),
    dict(series=LIFT_RANS, t=T_RANS_LIFT, yr=(-0.2, 0.8), top=489, bot=754, width=2.0, shape="spline",
         box=(123, 413, 840, 781), title_y=447, letter_y=415, letter_x=9, xt_y=758),
    dict(series=DRAG_RSM, t=T_RSM_DRAG, yr=(-0.2, 1.0), top=893, bot=1157, width=2.3, shape="linear",
         box=(123, 818, 840, 1185), title_y=850, letter_y=815, letter_x=9, xt_y=1161),
    dict(series=DRAG_RANS, t=T_RANS_DRAG, yr=(-0.2, 1.0), top=1296, bot=1563, width=2.0, shape="spline",
         box=(123, 1221, 840, 1600), title_y=1254, letter_y=1224, letter_x=9, xt_y=1564),
]

fig = go.Figure()
layout = dict(width=W, height=H, margin=dict(l=0, r=0, t=0, b=0, autoexpand=False),
              paper_bgcolor="white", plot_bgcolor="white",
              font=dict(family=FONT, color="black"), shapes=[], annotations=[])

x_tickvals = list(range(0, 71, 5))
x_ticktext = [str(v) if v % 10 == 0 else "" for v in x_tickvals]
TICK_FONT = dict(family=FONT, size=19, weight="bold", color="black")

for i, p in enumerate(panels):
    n = i + 1
    xa = "x" if n == 1 else f"x{n}"
    ya = "y" if n == 1 else f"y{n}"
    for key in SPIN_RATIOS:
        if key not in p["series"]:
            continue
        fig.add_trace(go.Scatter(
            x=p["t"], y=p["series"][key], mode="lines", xaxis=xa, yaxis=ya,
            line=dict(color=COLOR_OF[key], width=p["width"], shape=p["shape"], smoothing=0.8),
            showlegend=False, hoverinfo="skip"))
    y0, y1 = p["yr"]
    dom = [fy(p["bot"]), fy(p["top"])]
    zero_pos = dom[0] + (0 - y0) / (y1 - y0) * (dom[1] - dom[0])
    nt = int(round((y1 - y0) * 10))
    yvals = [round(y0 + 0.1 * k, 1) for k in range(nt + 1)]
    ytext = [f"{v:.1f}" if int(round(v * 10)) % 2 == 0 else "" for v in yvals]
    layout["xaxis" if n == 1 else f"xaxis{n}"] = dict(
        domain=[fx(X_LEFT), fx(X_RIGHT)], range=[0, 70], anchor="free", position=zero_pos,
        showline=True, linewidth=4, linecolor="black", ticks="outside", ticklen=4, tickwidth=3,
        tickcolor="black", tickvals=x_tickvals, ticktext=x_ticktext, showgrid=False, zeroline=False,
        ticklabelstandoff=0, tickfont=TICK_FONT)
    layout["yaxis" if n == 1 else f"yaxis{n}"] = dict(
        domain=dom, range=[y0, y1], anchor=xa, showline=True, linewidth=3, linecolor="black",
        ticks="inside", ticklen=4, tickwidth=3, tickcolor="black", tickvals=yvals, ticktext=ytext,
        showgrid=False, zeroline=False, ticklabelstandoff=10,
        layer="below traces" if n >= 3 else "above traces", tickfont=TICK_FONT)
    bx0, by0, bx1, by1 = p["box"]
    layout["shapes"].append(dict(type="rect", xref="paper", yref="paper", x0=fx(bx0), x1=fx(bx1),
                                 y0=fy(by1), y1=fy(by0), line=dict(color="black", width=3)))
    layout["annotations"] += [
        label(f"<b>{PANEL_TITLES[i]}</b>", 482, p["title_y"], 28),
        label(PANEL_LETTERS[i], p["letter_x"], p["letter_y"], 22, xanchor="left"),
        label(f"<b>{Y_TITLES[i]}</b>", 169, (p["top"] + p["bot"]) / 2, 20, angle=-90),
        label(f"<b>{X_TITLE}</b>", 756, p["xt_y"], 20),
    ]

# ---------------- magnified insets for the RSM panels ----------------
insets = [
    dict(series=LIFT_RSM, t=T_RSM_LIFT, xr=[48, 62], yr=[0.13, 0.50], frame=(898, 11, 1032, 205)),
    dict(series=DRAG_RSM, t=T_RSM_DRAG, xr=[20, 34], yr=[0.44, 0.65], frame=(897, 818, 1037, 1011)),
]
for j, ins in enumerate(insets):
    n = 5 + j
    xa, ya = f"x{n}", f"y{n}"
    for key in SPIN_RATIOS:
        if key not in ins["series"]:
            continue
        fig.add_trace(go.Scatter(
            x=ins["t"], y=ins["series"][key], mode="lines", xaxis=xa, yaxis=ya,
            line=dict(color=COLOR_OF[key], width=3), showlegend=False, hoverinfo="skip"))
    fx0, fy0, fx1, fy1 = ins["frame"]
    layout[f"xaxis{n}"] = dict(domain=[fx(fx0 + 3), fx(fx1 - 3)], range=ins["xr"], anchor=ya,
                               showline=False, showticklabels=False, ticks="", showgrid=False, zeroline=False)
    layout[f"yaxis{n}"] = dict(domain=[fy(fy1 - 3), fy(fy0 + 3)], range=ins["yr"], anchor=xa,
                               showline=False, showticklabels=False, ticks="", showgrid=False, zeroline=False)
    layout["shapes"].append(dict(type="rect", xref="paper", yref="paper", x0=fx(fx0), x1=fx(fx1),
                                 y0=fy(fy1), y1=fy(fy0), line=dict(color="black", width=4)))

# ---------------- alpha call-outs: label at the arrow tail, head on the curve ----------------
callouts = [
    # (text, text centre, arrow head) in pixels
    ("α = 5", (623, 274), (575, 257)),
    ("α = 0", (623, 344), (575, 330)),
    ("α = 0", (637, 750), (598, 721)),
    ("α = 5", (763, 733), (742, 689)),
    ("α = 5", (408, 1040), (370, 1012)),
    ("α = 0", (752, 1045), (713, 1020)),
    ("α = 0", (711, 1456), (735, 1414)),
    ("α = 5", (767, 1466), (778, 1424)),
]
for txt, (tx, ty), (hx, hy) in callouts:
    layout["annotations"].append(dict(
        text=f"<b>{txt}</b>", x=fx(hx), y=fy(hy), xref="paper", yref="paper",
        showarrow=True, ax=tx - hx, ay=ty - hy, axref="pixel", ayref="pixel",
        arrowhead=4, arrowsize=1.3, arrowwidth=3, arrowcolor="black",
        font=dict(size=21, family=FONT)))

# ---------------- legend ----------------
for k, (key, col) in enumerate(zip(SPIN_RATIOS, LINE_COLORS)):
    fig.add_trace(go.Scatter(x=[None], y=[None], mode="lines", name=key, legendgroup=f"g{k}",
                             line=dict(color=col, width=4), xaxis="x", yaxis="y", showlegend=True))
layout["showlegend"] = True
layout["legend"] = dict(x=fx(922), y=fy(1188), xanchor="left", yanchor="top", tracegroupgap=27,
                        itemwidth=44, bgcolor="rgba(0,0,0,0)",
                        font=dict(family=FONT, size=22, weight="bold", color="black"))
layout["annotations"].append(label("<b>Spin ratio of</b>", 882, 1376, 27, angle=-90))

fig.update_layout(**layout)
fig.write_html("out.html")
